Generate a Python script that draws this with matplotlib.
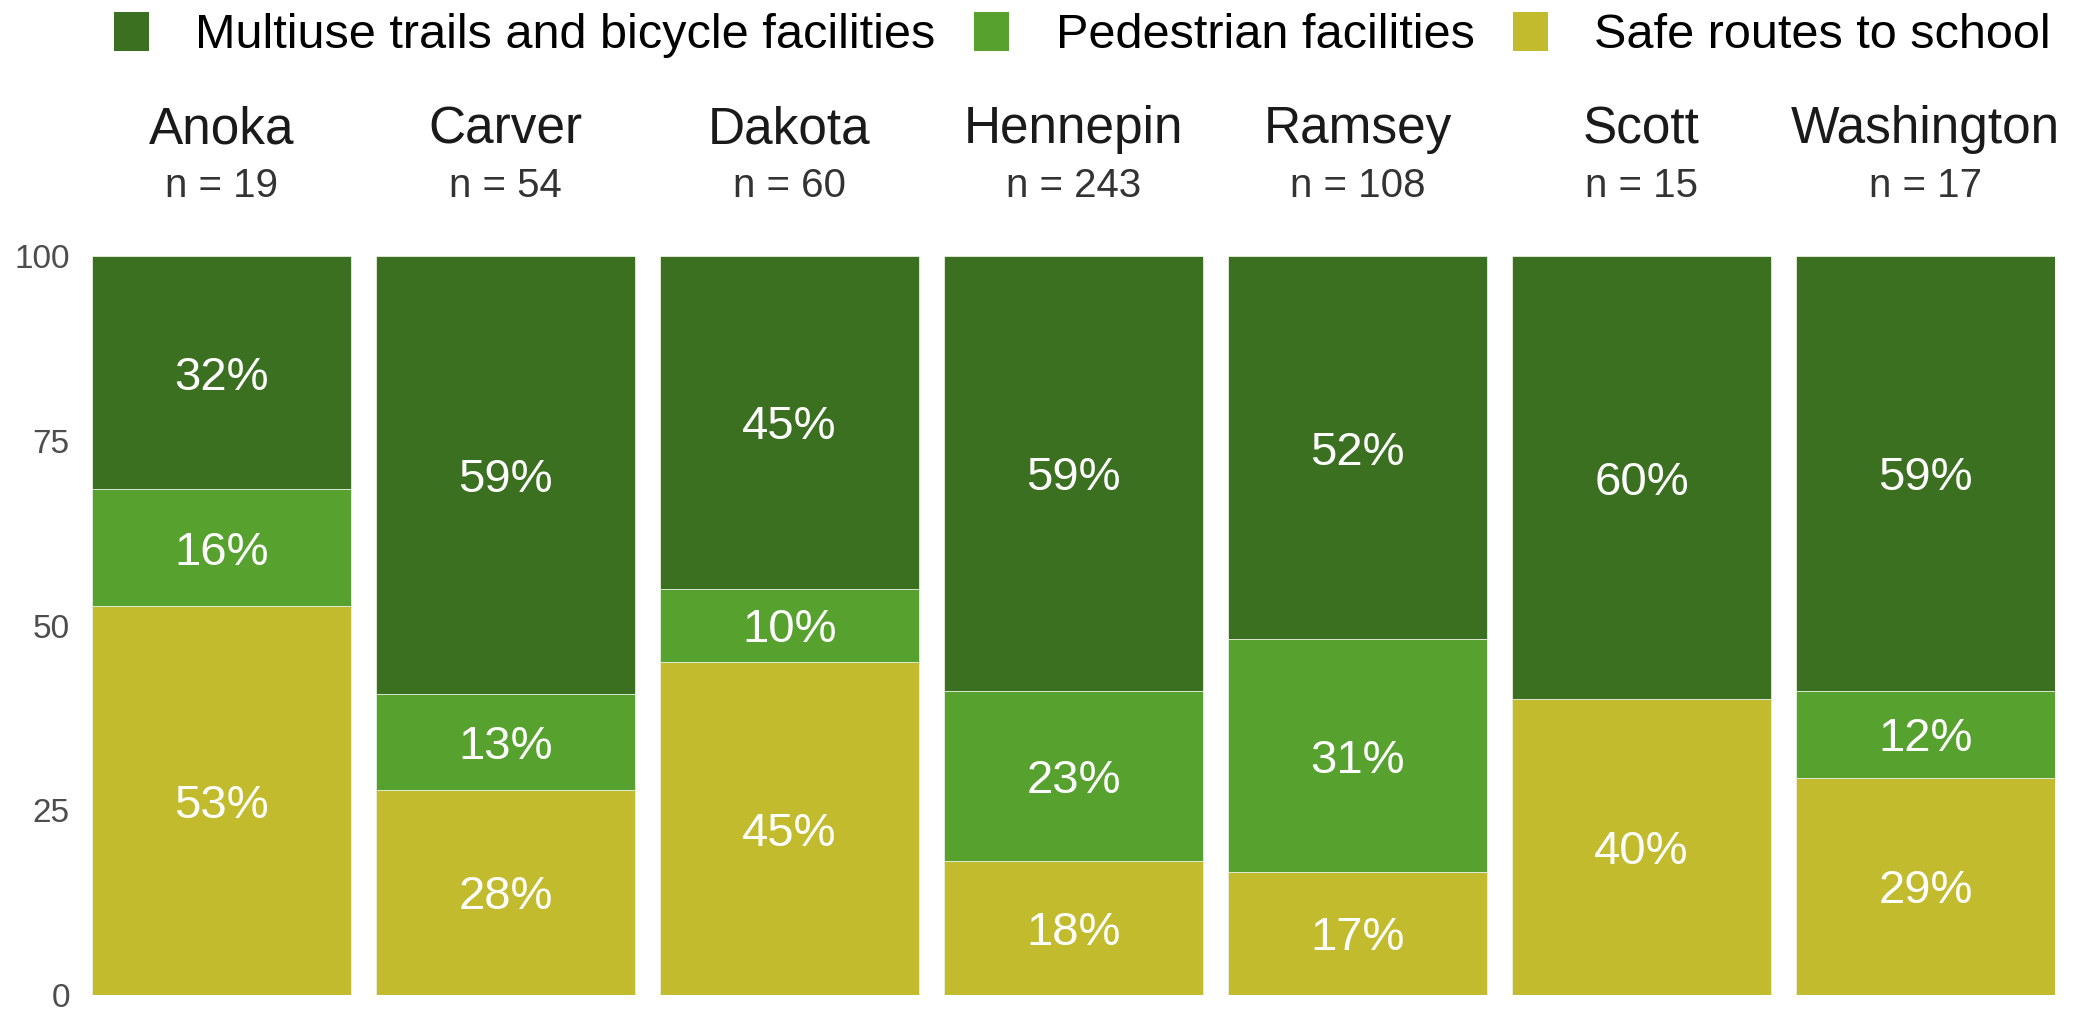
import numpy as np
import matplotlib

matplotlib.use("Agg")
import matplotlib.pyplot as plt
from matplotlib.patches import Patch


COUNTIES = ["Anoka", "Carver", "Dakota", "Hennepin", "Ramsey", "Scott", "Washington"]
# project counts per county, bottom to top of each bar
SAFE_ROUTES = [10, 15, 27, 44, 18, 6, 5]
PEDESTRIAN = [3, 7, 6, 56, 34, 0, 2]
MULTIUSE = [6, 32, 27, 143, 56, 9, 10]

CATEGORIES = ["Multiuse trails and bicycle facilities", "Pedestrian facilities", "Safe routes to school"]
COLORS = {
    "Multiuse trails and bicycle facilities": "#3C7021",
    "Pedestrian facilities": "#57A22F",
    "Safe routes to school": "#C2BB2D",
}
Y_TICKS = [0, 25, 50, 75, 100]


def main():
    plt.rcParams["font.family"] = ["Liberation Sans", "DejaVu Sans"]

    safe = np.array(SAFE_ROUTES, dtype=float)
    ped = np.array(PEDESTRIAN, dtype=float)
    multi = np.array(MULTIUSE, dtype=float)
    totals = safe + ped + multi
    shares = {
        "Safe routes to school": safe / totals * 100,
        "Pedestrian facilities": ped / totals * 100,
        "Multiuse trails and bicycle facilities": multi / totals * 100,
    }

    W, H = 2079, 1011
    top_px, bottom_px = 256, 995
    fig = plt.figure(figsize=(W / 100, H / 100), dpi=100)
    ax = fig.add_axes([92 / W, 1 - bottom_px / H, (2055 - 92) / W, (bottom_px - top_px) / H])

    x = np.arange(len(COUNTIES))
    width = 0.912
    bottom = np.zeros(len(COUNTIES))
    for cat in ["Safe routes to school", "Pedestrian facilities", "Multiuse trails and bicycle facilities"]:
        vals = shares[cat]
        ax.bar(x, vals, width=width, bottom=bottom, color=COLORS[cat],
               edgecolor="#e8efe0", linewidth=0.6)
        for xi, b, v in zip(x, bottom, vals):
            if v > 0:
                ax.text(xi, b + v / 2, f"{v:.0f}%", ha="center", va="center_baseline",
                        color="white", fontsize=34)
        bottom += vals

    ax.set_xlim(-width / 2, len(COUNTIES) - 1 + width / 2)
    ax.set_ylim(0, 100)
    ax.set_xticks([])
    ax.set_yticks(Y_TICKS)
    ax.set_yticklabels([str(t) for t in Y_TICKS])
    ax.tick_params(axis="y", length=0, pad=16, labelsize=24, labelcolor="#4d4d4d")
    for side in ax.spines.values():
        side.set_visible(False)

    # facet strip titles, placed in pixel rows above the panel
    px_to_y = lambda py: 100 + (top_px - py) / (bottom_px - top_px) * 100
    for xi, name, n in zip(x, COUNTIES, totals):
        ax.text(xi, px_to_y(130), name, ha="center", va="center",
                fontsize=37, color="#1a1a1a", clip_on=False)
        ax.text(xi, px_to_y(186), f"n = {int(n)}", ha="center", va="center",
                fontsize=29, color="#333333", clip_on=False)

    handles = [Patch(facecolor=COLORS[c], edgecolor="none") for c in CATEGORIES]
    fig.legend(handles, CATEGORIES, loc="center left", bbox_to_anchor=(114 / W, 1 - 35 / H),
               ncol=3, frameon=False, fontsize=35, borderpad=0, borderaxespad=0,
               handlelength=0.72, handleheight=0.88, handletextpad=0.95, columnspacing=0.8)

    fig.savefig("out.png", dpi=100)
    plt.close(fig)


if __name__ == "__main__":
    main()
